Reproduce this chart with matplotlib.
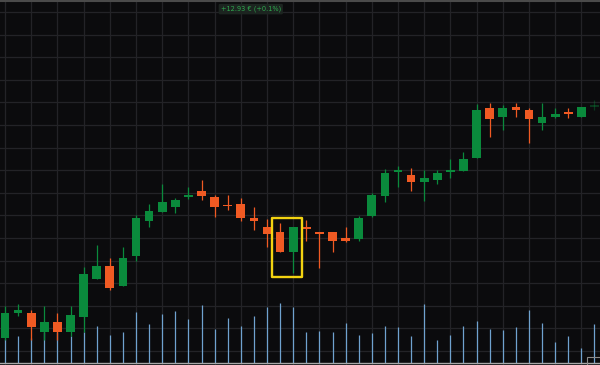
import numpy as np
import matplotlib.pyplot as plt
import matplotlib.transforms as mtransforms
from matplotlib.patches import Rectangle

# OHLC prices per candle (EUR)
opens = [12881.15, 12893.65, 12893.65, 12884.15, 12889.15, 12884.15, 12891.35, 12910.5,
         12917.0, 12907.0, 12922.0, 12939.65, 12944.15, 12946.65, 12951.35, 12954.65,
         12951.35, 12947.65, 12948.0, 12940.85, 12936.65, 12934.15, 12924.15, 12936.65,
         12934.15, 12934.15, 12930.85, 12930.35, 12942.0, 12952.0, 12964.5, 12962.5,
         12959.15, 12960.0, 12964.5, 12964.5, 12971.25, 12996.25, 12991.65, 12996.35,
         12995.0, 12988.35, 12991.65, 12994.15, 12991.65, 12997.15]
highs = [12897.0, 12898.0, 12895.0, 12897.0, 12893.35, 12897.0, 12916.35, 12927.5,
         12920.85, 12926.35, 12942.5, 12947.85, 12958.0, 12950.85, 12956.5, 12960.0,
         12952.5, 12952.5, 12950.85, 12946.65, 12940.35, 12938.35, 12936.65, 12940.0,
         12934.15, 12934.15, 12936.35, 12942.0, 12953.35, 12965.35, 12967.0, 12965.85,
         12965.0, 12965.0, 12970.5, 12973.85, 12997.85, 12998.35, 12997.5, 12998.35,
         12996.15, 12998.35, 12996.15, 12996.15, 12996.65, 13000.0]
lows = [12880.0, 12892.0, 12880.0, 12880.0, 12880.0, 12882.0, 12884.15, 12910.5,
        12905.0, 12907.0, 12919.65, 12936.35, 12944.15, 12943.35, 12950.5, 12950.0,
        12941.35, 12945.0, 12939.65, 12935.0, 12926.65, 12924.15, 12913.65, 12929.65,
        12915.85, 12924.15, 12929.15, 12929.65, 12941.65, 12949.15, 12956.5, 12954.5,
        12949.5, 12957.85, 12961.15, 12964.5, 12971.15, 12981.65, 12985.0, 12991.65,
        12978.35, 12985.0, 12990.85, 12990.85, 12991.65, 12995.0]
closes = [12893.65, 12895.0, 12886.65, 12889.15, 12884.15, 12892.5, 12912.85, 12917.15,
          12906.0, 12920.85, 12940.85, 12944.35, 12949.0, 12950.0, 12952.5, 12952.15,
          12946.65, 12947.35, 12940.85, 12939.65, 12933.0, 12924.15, 12936.65, 12935.35,
          12933.0, 12929.65, 12929.65, 12940.85, 12952.5, 12963.65, 12964.75, 12959.15,
          12961.15, 12963.35, 12964.85, 12970.5, 12995.0, 12990.75, 12996.25, 12995.0,
          12990.5, 12991.65, 12992.85, 12992.85, 12996.35, 12997.25]
volumes = [2370, 2700, 2500, 3130, 3130, 2700, 3130, 3730, 2800, 3130, 5070, 3900,
           4900, 5200, 4370, 5800, 3400, 4530, 3730, 4730, 5630, 5970, 5630, 3130,
           3200, 3130, 3970, 2800, 2970, 3700, 3630, 2700, 5900, 2300, 2800, 3700,
           4200, 3400, 3300, 3630, 5300, 3970, 2070, 2700, 1470, 3870]
highlight = [21, 22]
change_label = "+12.93 € (+0.1%)"

BG = '#0b0b0d'
GRID = '#232327'
UP = '#0a8a3c'
DOWN = '#f05a23'
VOL = '#6fa2cf'

o = np.array(opens)
h = np.array(highs)
l = np.array(lows)
c = np.array(closes)
x = np.arange(len(o))

fig = plt.figure(figsize=(6, 3.65), dpi=100, facecolor=BG)
ax = fig.add_axes([0, 0, 1, 1], facecolor=BG)
# separate scale for volume, only used for its transform
ax_v = ax.twinx()
ax_v.set_axis_off()

ax.set_xlim(-0.382, 45.42)
ax.set_ylim(12867.5, 13050)
ax_v.set_ylim(-200, 36300)

# grid
ax.set_axisbelow(True)
ax.set_xticks(np.arange(0, len(o), 2))
ax.set_yticks(np.arange(12874.5, 13050, 11.3))
ax.grid(True, color=GRID, lw=0.9)
ax.tick_params(length=0, labelleft=False, labelbottom=False)
for s in ax.spines.values():
    s.set_visible(False)

# volume, drawn in the price axes so it sits above the grid and below candles
vol_tr = mtransforms.blended_transform_factory(ax.transData, ax_v.transData)
ax.vlines(x, 0, volumes, colors=VOL, lw=0.9, transform=vol_tr, zorder=1)
ax.plot([-1, len(o) + 1], [0, 0], color='#a8a8a8', lw=1.0, transform=vol_tr, zorder=1)

# candles
cols = np.where(c >= o, UP, DOWN)
alphas = np.ones(len(o))
alphas[-1] = 0.35
body = np.maximum(np.abs(c - o), 0.8)
bottom = np.minimum(o, c) - np.where(np.abs(c - o) < 0.8, 0.4, 0)
for i in x:
    ax.vlines(i, l[i], h[i], colors=cols[i], lw=0.9, alpha=alphas[i], zorder=3)
    ax.bar(i, body[i], bottom=bottom[i], width=0.66, color=cols[i],
           alpha=alphas[i], zorder=4)

# highlight box around two candles
i0, i1 = highlight
y0 = l[i0:i1 + 1].min() - 2.2
y1 = h[i0:i1 + 1].max() + 2.9
ax.add_patch(Rectangle((i0 - 0.6, y0), (i1 - i0) + 1.26, y1 - y0, fill=False,
                       ec='#f3d311', lw=1.7, joinstyle='round', zorder=5))

# change label
ax.text(0.418, 0.975, change_label, transform=ax.transAxes, ha='center', va='center',
        fontsize=4.8, color='#2eaa4e',
        bbox=dict(boxstyle='round,pad=0.3,rounding_size=0.2', fc='#1c2420', ec='none'))

# top border and little corner box
fig.add_artist(plt.Line2D([0, 1], [0.998, 0.998], color='#4a4a4a', lw=1.5))
ax.add_patch(Rectangle((0.979, 0.0), 0.03, 0.022, transform=ax.transAxes,
                       fill=False, ec='#8a8a8a', lw=0.8, zorder=6))

fig.savefig('out.png', dpi=100, facecolor=BG)
